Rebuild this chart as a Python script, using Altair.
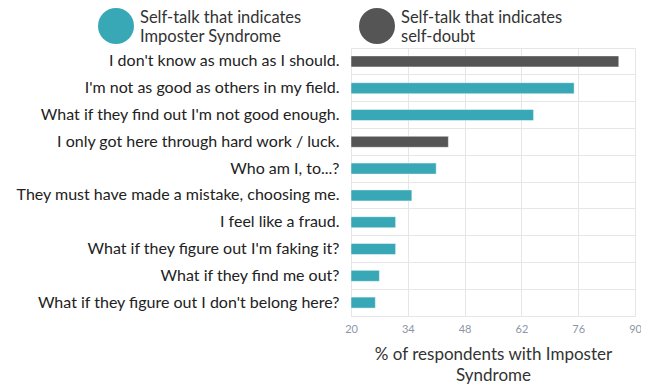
import altair as alt
import pandas as pd

statements = [
    "I don't know as much as I should.",
    "I'm not as good as others in my field.",
    "What if they find out I'm not good enough.",
    "I only got here through hard work / luck.",
    "Who am I, to...?",
    "They must have made a mistake, choosing me.",
    "I feel like a fraud.",
    "What if they figure out I'm faking it?",
    "What if they find me out?",
    "What if they figure out I don't belong here?",
]
percents = [86, 75, 65, 44, 41, 35, 31, 31, 27, 26]
kinds = [
    "self-doubt", "Imposter Syndrome", "Imposter Syndrome", "self-doubt",
    "Imposter Syndrome", "Imposter Syndrome", "Imposter Syndrome",
    "Imposter Syndrome", "Imposter Syndrome", "Imposter Syndrome",
]
kind_order = ["Imposter Syndrome", "self-doubt"]
kind_colors = ["#38a8b7", "#555555"]
x_ticks = [20, 34, 48, 62, 76, 90]

df = pd.DataFrame({"statement": statements, "pct": percents, "kind": kinds})

FONT = "Lato"

chart = (
    alt.Chart(df)
    .mark_bar(size=11, stroke="#ffffff", strokeOpacity=0.45, strokeWidth=1)
    .encode(
        y=alt.Y(
            "statement:N",
            sort=None,
            scale=alt.Scale(paddingInner=0, paddingOuter=0),
            axis=alt.Axis(
                title=None,
                ticks=False,
                domain=False,
                grid=True,
                bandPosition=0,
                gridColor="#e6e6e6",
                labelFontSize=16,
                labelColor="#222222",
                labelPadding=12,
                labelLimit=400,
                labelFont=FONT,
            ),
        ),
        x=alt.X(
            "pct:Q",
            scale=alt.Scale(domain=[20, 90], zero=False, nice=False),
            axis=alt.Axis(
                values=x_ticks,
                title=["% of respondents with Imposter", "Syndrome"],
                titleFontSize=17,
                titleFontWeight="normal",
                titleColor="#333333",
                titleFont=FONT,
                titlePadding=12,
                titleLineHeight=21,
                ticks=False,
                domain=False,
                gridColor="#e6e6e6",
                labelColor="#8d96a8",
                labelFontSize=11,
                labelFont=FONT,
                labelPadding=7,
                labelFlush=False,
            ),
        ),
        x2=alt.datum(20),
        color=alt.Color(
            "kind:N",
            scale=alt.Scale(domain=kind_order, range=kind_colors),
            legend=alt.Legend(
                title=None,
                orient="none",
                legendX=-253,
                legendY=-40,
                direction="horizontal",
                symbolType="circle",
                symbolSize=1296,
                symbolStrokeWidth=0,
                symbolOpacity=1,
                labelFontSize=16.5,
                labelFont=FONT,
                labelColor="#333333",
                labelOffset=6,
                labelLimit=300,
                labelBaseline="bottom",
                columnPadding=57,
                padding=0,
                labelExpr="['Self-talk that indicates', datum.label]",
            ),
        ),
    )
    .properties(
        width=284,
        height=268,
        autosize=alt.AutoSizeParams(type="none"),
        padding={"left": 343, "top": 40, "right": 6, "bottom": 69},
    )
    .configure_view(stroke="#e6e6e6")
)

chart.save("out.html", embed_options={"renderer": "svg", "actions": False})
